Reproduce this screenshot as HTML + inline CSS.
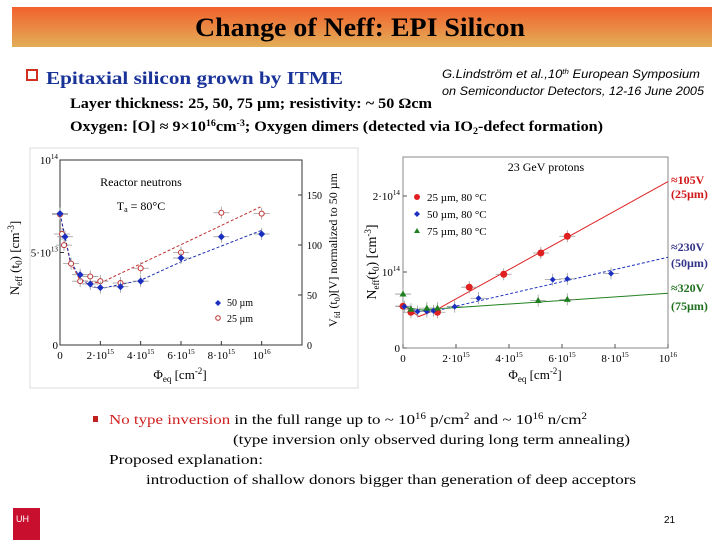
<!DOCTYPE html>
<html><head><meta charset="utf-8"><style>
html,body{margin:0;padding:0;background:#fff;width:720px;height:540px;overflow:hidden}
svg{display:block;font-family:"Liberation Serif",serif}
</style></head><body>
<svg id="s" width="720" height="540" viewBox="0 0 720 540" xmlns="http://www.w3.org/2000/svg">
<defs><linearGradient id="tg" x1="0" y1="0" x2="0" y2="1"><stop offset="0" stop-color="#f2612c"/><stop offset="1" stop-color="#e2ae58"/></linearGradient></defs>
<rect x="12" y="7" width="700" height="40" fill="url(#tg)"/>
<text x="360" y="36" text-anchor="middle" font-size="26" font-weight="bold" textLength="330" lengthAdjust="spacingAndGlyphs">Change of Neff: EPI Silicon</text>
<rect x="27" y="70" width="10" height="10" fill="#fff" stroke="#d03020" stroke-width="2"/>
<text x="46" y="84" font-size="18" font-weight="bold" fill="#1a3399" textLength="297" lengthAdjust="spacingAndGlyphs">Epitaxial silicon grown by ITME</text>
<text x="571" y="78" text-anchor="middle" font-size="11.5" font-style="italic" font-family="Liberation Sans,sans-serif" textLength="258" lengthAdjust="spacingAndGlyphs">G.Lindström et al.,10<tspan font-size="7" dy="-4">th</tspan><tspan dy="4"> European Symposium</tspan></text>
<text x="573" y="95" text-anchor="middle" font-size="11.5" font-style="italic" font-family="Liberation Sans,sans-serif" textLength="262" lengthAdjust="spacingAndGlyphs">on Semiconductor Detectors, 12-16 June 2005</text>
<text x="70" y="108" font-size="14.5" font-weight="bold" textLength="362" lengthAdjust="spacingAndGlyphs">Layer thickness: 25, 50, 75 µm; resistivity: ~ 50 Ωcm</text>
<text x="70" y="131" font-size="14.5" font-weight="bold" textLength="533" lengthAdjust="spacingAndGlyphs">Oxygen: [O] ≈ 9×10<tspan font-size="9" dy="-5">16</tspan><tspan dy="5">cm</tspan><tspan font-size="9" dy="-5">-3</tspan><tspan dy="5">;  Oxygen dimers (detected via IO</tspan><tspan font-size="9" dy="3">2</tspan><tspan dy="-3">-defect formation)</tspan></text>

<g id="left"></g>
<g id="right"></g>

<rect x="93" y="416" width="5" height="6" fill="#c02020"/>
<text x="109" y="424" font-size="14" textLength="478" lengthAdjust="spacingAndGlyphs"><tspan fill="#d02020">No type inversion</tspan> in the full range up to ~ 10<tspan font-size="9" dy="-5">16</tspan><tspan dy="5"> p/cm</tspan><tspan font-size="9" dy="-5">2</tspan><tspan dy="5"> and ~ 10</tspan><tspan font-size="9" dy="-5">16</tspan><tspan dy="5"> n/cm</tspan><tspan font-size="9" dy="-5">2</tspan></text>
<text x="233" y="444" font-size="14" textLength="397" lengthAdjust="spacingAndGlyphs">(type inversion only observed during long term annealing)</text>
<text x="109" y="464" font-size="14" textLength="154" lengthAdjust="spacingAndGlyphs">Proposed explanation:</text>
<text x="146" y="484" font-size="14" textLength="490" lengthAdjust="spacingAndGlyphs">introduction of shallow donors bigger than generation of deep acceptors</text>
<text x="664" y="523" font-size="10" font-family="Liberation Sans,sans-serif">21</text>
<rect x="13" y="508" width="27" height="32" fill="#c8102e"/>
<text x="16" y="522" font-size="9" fill="#fff" font-family="Liberation Sans,sans-serif">UH</text>
</svg>
<script>
// ---------- Left chart data (reactor neutrons), x in 1e15 cm^-2, y in 1e13 cm^-3 ----------
const leftX50 = [0, 0.25, 1, 1.5, 2, 3, 4, 6, 8, 10];
const leftY50 = [7.1, 5.85, 3.8, 3.3, 3.1, 3.15, 3.45, 4.7, 5.85, 6.0];
const leftX25 = [0, 0.1, 0.2, 0.55, 1, 1.5, 2, 3, 4, 6, 8, 10];
const leftY25 = [7.06, 6.0, 5.4, 4.4, 3.45, 3.7, 3.45, 3.35, 4.15, 5.0, 7.15, 7.1];
const leftFit25X = [0, 0.5, 1, 2, 10];
const leftFit25Y = [7.1, 4.5, 3.5, 3.35, 7.5];
const leftFit50X = [0, 0.5, 1, 1.5, 2, 4, 6, 10];
const leftFit50Y = [7.1, 4.6, 3.6, 3.2, 3.05, 3.5, 4.5, 6.2];
const leftXTicks = [0, 2, 4, 6, 8, 10];
const leftXLabels = ["0", "2·10|15", "4·10|15", "6·10|15", "8·10|15", "10|16"];
const leftYTicks = [0, 5, 10];
const leftYLabels = ["0", "5·10|13", "10|14"];
const leftRTicks = [0, 50, 100, 150];
// ---------- Right chart data (23 GeV protons), x in 1e15, y in 1e13 ----------
const rightX25 = [0, 0.3, 1.3, 2.5, 3.8, 5.2, 6.2];
const rightY25 = [5.5, 4.7, 4.7, 8.0, 9.7, 12.5, 14.7];
const rightX50 = [0.05, 0.55, 0.9, 1.15, 1.95, 2.85, 5.65, 6.2, 7.85];
const rightY50 = [5.45, 4.8, 4.8, 4.9, 5.45, 6.55, 9.0, 9.1, 9.8];
const rightX75 = [0, 0.3, 0.9, 1.3, 5.1, 6.2];
const rightY75 = [7.1, 5.1, 5.25, 5.25, 6.25, 6.4];
const rightFit25X = [0, 0.6, 1.3, 10];
const rightFit25Y = [5.7, 4.15, 5.1, 21.9];
const rightFit50X = [0, 0.6, 1.5, 10];
const rightFit50Y = [5.5, 4.8, 5.1, 11.95];
const rightFit75X = [0, 0.7, 1.5, 10];
const rightFit75Y = [5.4, 5.0, 5.2, 7.2];
const rightXTicks = [0, 2, 4, 6, 8, 10];
const rightXLabels = ["0", "2·10|15", "4·10|15", "6·10|15", "8·10|15", "10|16"];
const rightYTicks = [0, 10, 20];
const rightYLabels = ["0", "10|14", "2·10|14"];

const NS = "http://www.w3.org/2000/svg";
function mk(parent, tag, attrs) {
  const e = document.createElementNS(NS, tag);
  for (const k in attrs) e.setAttribute(k, attrs[k]);
  parent.appendChild(e);
  return e;
}
function supText(parent, x, y, label, size, anchor) {
  const t = mk(parent, "text", {x: x, y: y, "font-size": size, "text-anchor": anchor});
  const parts = label.split("|");
  t.appendChild(document.createTextNode(parts[0]));
  if (parts[1]) { const s = mk(t, "tspan", {dy: -5, "font-size": size * 0.65}); s.textContent = parts[1]; }
  return t;
}
function path(g, xs, ys, sx, sy) {
  return xs.map((v, i) => (i ? "L" : "M") + sx(v).toFixed(1) + "," + sy(ys[i]).toFixed(1)).join(" ");
}

// ===== LEFT =====
(function () {
  const g = document.getElementById("left");
  const x0 = 60, x1 = 302, y0 = 345, y1 = 160;
  const sx = v => x0 + v / 12 * (x1 - x0);
  const sy = v => y0 - v / 10 * (y0 - y1);
  const sr = v => y0 - v / 185 * (y0 - y1);
  mk(g, "rect", {x: 30, y: 148, width: 328, height: 240, fill: "none", stroke: "#ddd"});
  mk(g, "rect", {x: x0, y: y1, width: x1 - x0, height: y0 - y1, fill: "none", stroke: "#333", "stroke-width": 1});
  leftXTicks.forEach((v, i) => {
    mk(g, "line", {x1: sx(v), x2: sx(v), y1: y0, y2: y0 - 4, stroke: "#333"});
    const t = supText(g, sx(v), y0 + 14, leftXLabels[i], 11, "middle");
    
    
  });
  leftYTicks.forEach((v, i) => {
    mk(g, "line", {x1: x0, x2: x0 + 4, y1: sy(v), y2: sy(v), stroke: "#333"});
    const t = supText(g, x0 - 2, sy(v) + 4, leftYLabels[i], 11, "end");
    
    
  });
  leftRTicks.forEach(v => {
    mk(g, "line", {x1: x1, x2: x1 - 4, y1: sr(v), y2: sr(v), stroke: "#333"});
    const t = mk(g, "text", {x: x1 + 5, y: sr(v) + 4, "font-size": 10});
    t.textContent = v;
    
    
  });
  const f25 = mk(g, "path", {d: path(g, leftFit25X, leftFit25Y, sx, sy), fill: "none", stroke: "#c03030", "stroke-width": 1, "stroke-dasharray": "3,2"});
  
  
  const f50 = mk(g, "path", {d: path(g, leftFit50X, leftFit50Y, sx, sy), fill: "none", stroke: "#2030b0", "stroke-width": 1, "stroke-dasharray": "3,2"});
  
  
  leftX25.forEach((v, i) => {
    const cx = sx(v), cy = sy(leftY25[i]);
    mk(g, "path", {d: `M${cx - 8},${cy}H${cx + 8}M${cx},${cy - 6}V${cy + 6}`, stroke: "#999", "stroke-width": 0.8});
    const c = mk(g, "circle", {cx: cx, cy: cy, r: 2.5, fill: "#fff", stroke: "#c03030", "stroke-width": 1});
    
    
  });
  leftX50.forEach((v, i) => {
    const cx = sx(v), cy = sy(leftY50[i]);
    mk(g, "path", {d: `M${cx - 8},${cy}H${cx + 8}M${cx},${cy - 6}V${cy + 6}`, stroke: "#999", "stroke-width": 0.8});
    const c = mk(g, "path", {d: `M${cx},${cy - 3.5}L${cx + 3.5},${cy}L${cx},${cy + 3.5}L${cx - 3.5},${cy}Z`, fill: "#1a2fc0"});
    
    
  });
  mk(g, "path", {d: "M218,300l3,3-3,3-3-3z", fill: "#1a2fc0"});
  mk(g, "circle", {cx: 218, cy: 318, r: 2.3, fill: "#fff", stroke: "#c03030"});
  let t = mk(g, "text", {x: 227, y: 306, "font-size": 10}); t.textContent = "50 µm";
  t = mk(g, "text", {x: 227, y: 322, "font-size": 10}); t.textContent = "25 µm";
  t = mk(g, "text", {x: 141, y: 186, "font-size": 12, "text-anchor": "middle"}); t.textContent = "Reactor neutrons";
  
  
  t = mk(g, "text", {x: 141, y: 210, "font-size": 12, "text-anchor": "middle"}); t.innerHTML = 'T<tspan font-size="8" dy="2">a</tspan><tspan dy="-2"> = 80°C</tspan>';
  t = mk(g, "text", {x: 180, y: 379, "font-size": 13, "text-anchor": "middle"}); t.innerHTML = 'Φ<tspan font-size="9" dy="3">eq</tspan><tspan dy="-3"> [cm</tspan><tspan font-size="9" dy="-5">-2</tspan><tspan dy="5">]</tspan>';
  
  
  t = mk(g, "text", {x: 0, y: 0, "font-size": 13, "text-anchor": "middle", transform: "translate(19,258) rotate(-90)"}); t.innerHTML = 'N<tspan font-size="9" dy="3">eff</tspan><tspan dy="-3"> (t</tspan><tspan font-size="9" dy="3">0</tspan><tspan dy="-3">) [cm</tspan><tspan font-size="9" dy="-5">-3</tspan><tspan dy="5">]</tspan>';
  
  
  t = mk(g, "text", {x: 0, y: 0, "font-size": 12, "text-anchor": "middle", transform: "translate(337,250) rotate(-90)"}); t.innerHTML = 'V<tspan font-size="8" dy="3">fd</tspan><tspan dy="-3"> (t</tspan><tspan font-size="8" dy="3">0</tspan><tspan dy="-3">)[V] normalized to 50 µm</tspan>';
  
  
})();

// ===== RIGHT =====
(function () {
  const g = document.getElementById("right");
  const x0 = 403, x1 = 668, y0 = 348, y1 = 157;
  const sx = v => x0 + v / 10 * (x1 - x0);
  const sy = v => y0 - v / 10 * 76;
  mk(g, "rect", {x: x0, y: y1, width: x1 - x0, height: y0 - y1, fill: "none", stroke: "#888", "stroke-width": 1});
  rightXTicks.forEach((v, i) => {
    mk(g, "line", {x1: sx(v), x2: sx(v), y1: y0, y2: y0 - 4, stroke: "#555"});
    const t = supText(g, sx(v), y0 + 14, rightXLabels[i], 11, "middle");
    
    
  });
  rightYTicks.forEach((v, i) => {
    mk(g, "line", {x1: x0, x2: x0 + 4, y1: sy(v), y2: sy(v), stroke: "#555"});
    const t = supText(g, x0 - 3, sy(v) + 4, rightYLabels[i], 11, "end");
    
    
  });
  const fits = [[rightFit25X, rightFit25Y, "#e02020", "none", "right-fit-25um"], [rightFit50X, rightFit50Y, "#1a2fc0", "3,2", "right-fit-50um"], [rightFit75X, rightFit75Y, "#208020", "none", "right-fit-75um"]];
  fits.forEach(f => {
    const p = mk(g, "path", {d: path(g, f[0], f[1], sx, sy), fill: "none", stroke: f[2], "stroke-width": 1, "stroke-dasharray": f[3]});
    
    
  });
  function errs(xs, ys) {
    xs.forEach((v, i) => {
      const cx = sx(v), cy = sy(ys[i]);
      mk(g, "path", {d: `M${cx - 8},${cy}H${cx + 8}M${cx},${cy - 6}V${cy + 6}`, stroke: "#999", "stroke-width": 0.8});
    });
  }
  errs(rightX25, rightY25); errs(rightX50, rightY50); errs(rightX75, rightY75);
  rightX25.forEach((v, i) => {
    const c = mk(g, "circle", {cx: sx(v), cy: sy(rightY25[i]), r: 3.5, fill: "#e02020"});
    
    
  });
  rightX50.forEach((v, i) => {
    const cx = sx(v), cy = sy(rightY50[i]);
    const c = mk(g, "path", {d: `M${cx},${cy - 3}L${cx + 3},${cy}L${cx},${cy + 3}L${cx - 3},${cy}Z`, fill: "#1a2fc0"});
    
    
  });
  rightX75.forEach((v, i) => {
    const cx = sx(v), cy = sy(rightY75[i]);
    const c = mk(g, "path", {d: `M${cx},${cy - 3.5}L${cx + 3.5},${cy + 2.5}L${cx - 3.5},${cy + 2.5}Z`, fill: "#208020"});
    
    
  });
  mk(g, "circle", {cx: 417, cy: 197, r: 3, fill: "#e02020"});
  mk(g, "path", {d: "M417,211l3,3-3,3-3-3z", fill: "#1a2fc0"});
  mk(g, "path", {d: "M417,228l3,5h-6z", fill: "#208020"});
  [["25 µm, 80 °C", 201], ["50 µm, 80 °C", 218], ["75 µm, 80 °C", 235]].forEach(a => {
    const t = mk(g, "text", {x: 427, y: a[1], "font-size": 11});
    t.textContent = a[0];
    
    
  });
  let t = mk(g, "text", {x: 546, y: 171, "font-size": 12, "text-anchor": "middle"}); t.textContent = "23 GeV protons";
  t = mk(g, "text", {x: 535, y: 379, "font-size": 13, "text-anchor": "middle"}); t.innerHTML = 'Φ<tspan font-size="9" dy="3">eq</tspan><tspan dy="-3"> [cm</tspan><tspan font-size="9" dy="-5">-2</tspan><tspan dy="5">]</tspan>';
  
  
  t = mk(g, "text", {x: 0, y: 0, "font-size": 14, "text-anchor": "middle", transform: "translate(376,262) rotate(-90)"}); t.innerHTML = 'N<tspan font-size="9" dy="3">eff</tspan><tspan dy="-3">(t</tspan><tspan font-size="9" dy="3">0</tspan><tspan dy="-3">) [cm</tspan><tspan font-size="9" dy="-5">-3</tspan><tspan dy="5">]</tspan>';
  
  
  [["≈105V", 184, "#d01818"], ["(25µm)", 198, "#d01818"], ["≈230V", 251, "#333388"], ["(50µm)", 267, "#333388"], ["≈320V", 292, "#207020"], ["(75µm)", 310, "#207020"]].forEach(a => {
    const e = mk(g, "text", {x: 671, y: a[1], "font-size": 12, "font-weight": "bold", fill: a[2]});
    e.textContent = a[0];
    
    
  });
})();
</script>
</body></html>
